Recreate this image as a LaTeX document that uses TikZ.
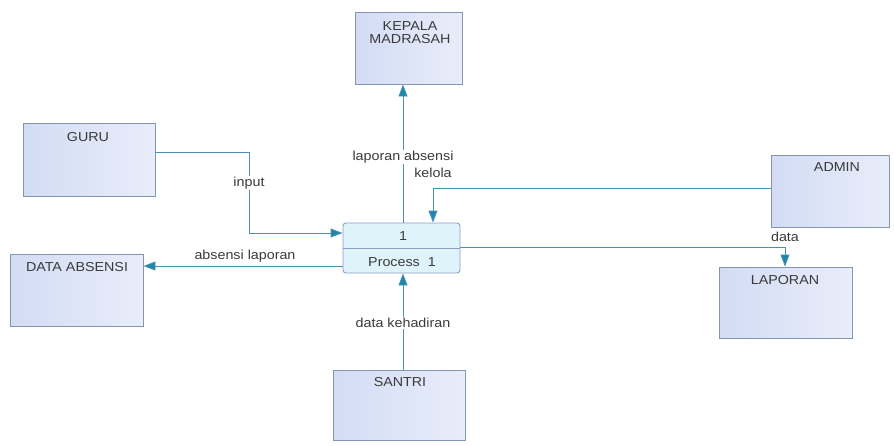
\documentclass[tikz,border=0pt]{standalone}
\usepackage{fontspec}
\setmainfont{Liberation Sans}[FakeStretch=1.1]
\usetikzlibrary{arrows.meta}
\definecolor{boxline}{HTML}{8497B0}
\definecolor{boxL}{HTML}{D2DCF4}
\definecolor{boxR}{HTML}{E9EDFA}
\definecolor{flow}{HTML}{4A90B0}
\definecolor{tip}{HTML}{1C87AB}
\definecolor{procfill}{HTML}{DFF3FB}
\definecolor{procline}{HTML}{8E9FC6}
\definecolor{txt}{HTML}{3A3A3A}
\begin{document}
\begin{tikzpicture}[x=1pt,y=-1pt,
  ent/.style={draw=boxline,line width=0.9pt,left color=boxL,right color=boxR,inner sep=0pt},
  ttl/.style={font=\fontsize{13}{14}\selectfont,text=txt,inner sep=0pt,align=center},
  lbl/.style={font=\fontsize{13}{14}\selectfont,text=txt,fill=white,inner sep=1pt},
  flowline/.style={draw=flow,line width=0.9pt,-{Triangle[length=12pt,width=9pt,fill=tip]}}]
\useasboundingbox (0,0) rectangle (894,445);
% entities
\node[ent,minimum width=107pt,minimum height=72pt] (kepala) at (408.5,48) {};
\node[ent,minimum width=132pt,minimum height=73pt] (guru) at (89,159.5) {};
\node[ent,minimum width=133pt,minimum height=72pt] (dataabs) at (76.5,290) {};
\node[ent,minimum width=118pt,minimum height=72pt] (admin) at (830,191) {};
\node[ent,minimum width=133pt,minimum height=71pt] (laporan) at (785.5,302.5) {};
\node[ent,minimum width=132pt,minimum height=70pt] (santri) at (399,405) {};
% titles
\node[ttl] (tkepala) at (410,33) {KEPALA\\[-1pt]MADRASAH};
\node[ttl] (tguru) at (88,137) {GURU};
\node[ttl] (tdataabs) at (77,267) {DATA ABSENSI};
\node[ttl] (tadmin) at (837,167) {ADMIN};
\node[ttl] (tlaporan) at (785,280) {LAPORAN};
\node[ttl] (tsantri) at (400,382) {SANTRI};
% process
\node[draw=procline,fill=procfill,line width=0.9pt,rounded corners=3pt,minimum width=117pt,minimum height=50pt,inner sep=0pt] (proc) at (401.5,248) {};
\draw[draw=procline,line width=0.9pt] (proc.west) -- (proc.east);
\node[ttl] (pnum) at (403,236) {1};
\node[ttl] (pname) at (402,262) {Process\ \ 1};
% flows
\coordinate (g1) at (249,152);
\coordinate (g2) at (249,233);
\draw[flowline] (guru.east |- g1) -- (g1) -- (g2) -- (proc.west |- g2);
\node[lbl] (linput) at (249,183) {input};

\draw[flowline] (proc.north -| 403,0) -- (kepala.south -| 403,0);
\node[lbl] (llap) at (403,157) {laporan absensi};

\coordinate (a1) at (433,188);
\draw[flowline] (admin.west |- a1) -- (a1) -- (proc.north -| a1);
\node[lbl,fill=none] (lkelola) at (433,173) {kelola};

\coordinate (d1) at (785,247);
\draw[flowline] (proc.east |- d1) -- (d1) -- (laporan.north -| d1);
\node[lbl,fill=none] (ldata) at (785,237) {data};

\coordinate (s1) at (403,266);
\draw[flowline] (proc.west |- s1) -- (dataabs.east |- s1);
\node[lbl,fill=none] (labs) at (245,256) {absensi laporan};

\draw[flowline] (santri.north -| 403,0) -- (proc.south -| 403,0);
\node[lbl] (lkeh) at (403,323) {data kehadiran};
\end{tikzpicture}
\end{document}
